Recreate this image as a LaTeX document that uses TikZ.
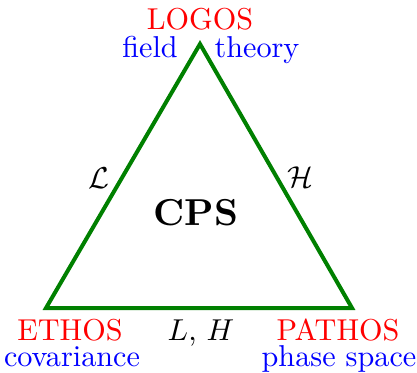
\documentclass[tikz,border=0pt]{standalone}
\begin{document}
\begin{tikzpicture}[x=1pt,y=-1pt,
  lbl/.style={anchor=base,inner sep=0pt,scale=3.02},
  vertex/.style={lbl,text=red},
  sub/.style={lbl,text=blue},
  side/.style={lbl,text=black},
  edge/.style={draw=green!50!black,line width=4pt,line join=miter}]
\useasboundingbox (0,0) rectangle (417,372);
\coordinate (T) at (200,44);
\coordinate (BL) at (46,308);
\coordinate (BR) at (352,308);
\draw[edge] (T) -- (BL) -- (BR) -- cycle;
\node[vertex] (logos) at (200,29) {LOGOS};
\node[sub] (field) at (150,57) {field};
\node[sub] (theory) at (257,57) {theory};
\node[vertex] (ethos) at (70,340) {ETHOS};
\node[sub] (cov) at (72,366) {covariance};
\node[vertex] (pathos) at (338,340) {PATHOS};
\node[sub] (phase) at (339,366) {phase space};
\node[side] (lh) at (201,340) {$L$, $H$};
\node[side] (cl) at (99,188) {$\mathcal{L}$};
\node[side] (ch) at (300,187) {$\mathcal{H}$};
\node[anchor=base,inner sep=0pt,scale=3.75,font=\bfseries] (cps) at (196,225) {CPS};
\end{tikzpicture}
\end{document}
